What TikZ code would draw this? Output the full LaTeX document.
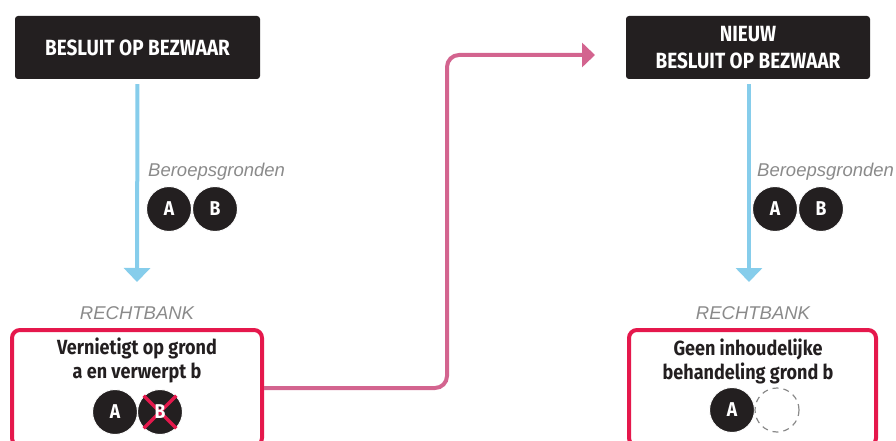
\documentclass[tikz,border=0pt]{standalone}
\usepackage{fontspec}
\setmainfont{Liberation Sans}
\newfontfamily\condb[FakeStretch=0.88]{Fira Sans}
\newfontfamily\condh[FakeStretch=0.86]{Fira Sans}
\usetikzlibrary{arrows.meta}
\definecolor{boxblack}{HTML}{231F20}
\definecolor{skyarrow}{HTML}{86CDEB}
\definecolor{crimson}{HTML}{E5184C}
\definecolor{pinkline}{HTML}{D3648F}
\definecolor{labelgray}{HTML}{8A8A8A}
\tikzset{
  blackbox/.style={fill=boxblack, rounded corners=3pt, minimum height=63pt, text=white,
    inner sep=0pt, align=center, font=\condh\bfseries\fontsize{22}{27}\selectfont},
  redbox/.style={draw=crimson, line width=4pt, rounded corners=8pt, inner sep=0pt},
  boxtext/.style={align=center, text=boxblack, font=\condb\bfseries\fontsize{20.5}{24}\selectfont},
  ground/.style={circle, fill=boxblack, draw=white, line width=1pt, minimum size=45pt,
    inner sep=0pt, text=white, font=\condb\bfseries\fontsize{20}{20}\selectfont},
  groundletter/.style={inner sep=0pt, text=white, font=\condb\bfseries\fontsize{20}{20}\selectfont},
  emptyground/.style={circle, draw=labelgray, dash pattern=on 6pt off 5pt, line width=1.2pt,
    minimum size=44pt, inner sep=0pt},
  graylabel/.style={text=labelgray, inner sep=0pt, font=\itshape\fontsize{18.5}{20}\selectfont},
  bluearrow/.style={draw=skyarrow, line width=4pt, -{Triangle[length=14pt,width=26pt]}},
  pinkarrow/.style={draw=pinkline, line width=4pt, rounded corners=12pt, -{Triangle[length=13pt,width=24pt]}},
  crossline/.style={draw=crimson, line width=3.5pt}
}
\begin{document}
\begin{tikzpicture}[x=1pt,y=-1pt]
\useasboundingbox (0,0) rectangle (896,441);
% left column
\node[blackbox, minimum width=245pt] (besluit) at (137.5,47.5) {BESLUIT OP BEZWAAR};
\coordinate (end1) at (137,282);
\draw[bluearrow, shorten <=5pt] (besluit.south) -- (end1);
\node[graylabel, anchor=base west] (gronden1) at (148,176) {Beroepsgronden};
\node[ground] (a1) at (169,209) {A};
\node[ground] (b1) at (215,209) {B};
\node[graylabel] (rb1) at (137,313) {RECHTBANK};
\node[redbox, minimum width=250pt, minimum height=116pt] (red1) at (137,388) {};
\node[boxtext] (txt1) at (137,360) {Vernietigt op grond\\a en verwerpt b};
\node[ground] (a2) at (115,412) {A};
\node[ground] (b2) at (160,412) {};
\draw[crossline] (b2.north west) -- (b2.south east);
\draw[crossline] (b2.north east) -- (b2.south west);
\node[groundletter] (b2letter) at (b2.center) {B};
% connector
\coordinate (turn) at (447,55);
\coordinate (tip) at (595,55);
\draw[pinkarrow] (red1.east) -| (turn) -- (tip);
% right column
\node[blackbox, minimum width=244pt] (nieuw) at (748,47.5) {NIEUW\\BESLUIT OP BEZWAAR};
\coordinate (end2) at (749,282);
\draw[bluearrow, shorten <=5pt] (nieuw.south -| end2) -- (end2);
\node[graylabel, anchor=base west] (gronden2) at (757,176) {Beroepsgronden};
\node[ground] (a3) at (775,209) {A};
\node[ground] (b3) at (821,209) {B};
\node[graylabel] (rb2) at (753,313) {RECHTBANK};
\node[redbox, minimum width=247pt, minimum height=116pt] (red2) at (752.5,388) {};
\node[boxtext] (txt2) at (748,361) {Geen inhoudelijke\\behandeling grond b};
\node[ground] (a4) at (732,410) {A};
\node[emptyground] (b4) at (777,410) {};
\end{tikzpicture}
\end{document}
